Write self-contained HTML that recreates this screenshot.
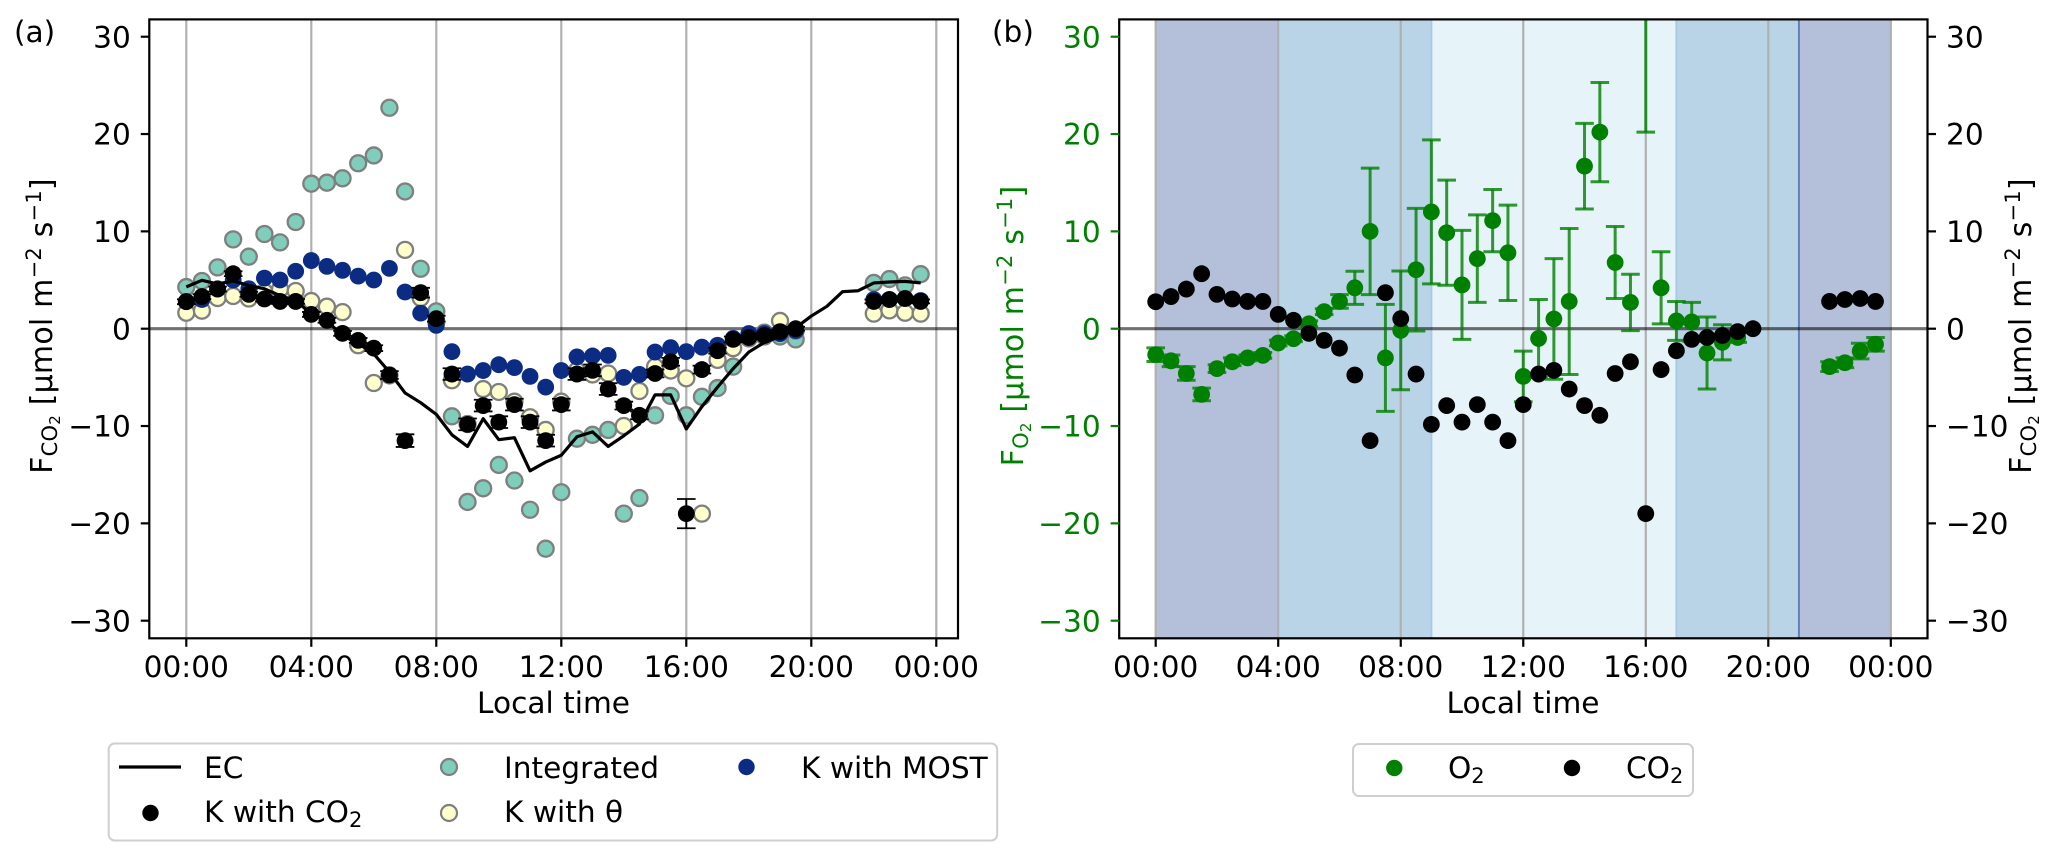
<!DOCTYPE html>
<html lang="en">
<head>
<meta charset="utf-8">
<title>CO2 and O2 flux diel cycles</title>
<style>
html,body{margin:0;padding:0;background:#fff;}
svg{display:block;font-family:"DejaVu Sans","Liberation Sans",sans-serif;}
text{font-size:29.6px;fill:#000;}
.axis-title{font-size:30px;letter-spacing:0.2px;}
.sub{font-size:21px;}
.subsub{font-size:15px;}
.green,.green tspan{fill:#008000;}
</style>
</head>
<body>
<svg id="figure" xmlns="http://www.w3.org/2000/svg" width="2067" height="859" viewBox="0 0 2067 859">
  <defs>
    <clipPath id="clip-a"><rect x="149.3" y="19.4" width="808.7" height="618.9"/></clipPath>
    <clipPath id="clip-b"><rect x="1119.2" y="19.4" width="808.3" height="618.9"/></clipPath>
  </defs>
  <rect x="0" y="0" width="2067" height="859" fill="#fff"/>
  <g id="panel-a"></g>
  <g id="panel-b"></g>

  <text x="14" y="42">(a)</text>
  <text x="992" y="42">(b)</text>

  <text class="axis-title" transform="translate(52,326) rotate(-90)" text-anchor="middle">F<tspan dy="5" class="sub">CO</tspan><tspan dy="3" class="subsub">2</tspan><tspan dy="-8"> [µmol m</tspan><tspan dy="-11" class="sub">−2</tspan><tspan dy="11"> s</tspan><tspan dy="-11" class="sub">−1</tspan><tspan dy="11">]</tspan></text>
  <text class="axis-title green" transform="translate(1023,326) rotate(-90)" text-anchor="middle">F<tspan dy="5" class="sub">O</tspan><tspan dy="3" class="subsub">2</tspan><tspan dy="-8"> [µmol m</tspan><tspan dy="-11" class="sub">−2</tspan><tspan dy="11"> s</tspan><tspan dy="-11" class="sub">−1</tspan><tspan dy="11">]</tspan></text>
  <text class="axis-title" transform="translate(2031,326) rotate(-90)" text-anchor="middle">F<tspan dy="5" class="sub">CO</tspan><tspan dy="3" class="subsub">2</tspan><tspan dy="-8"> [µmol m</tspan><tspan dy="-11" class="sub">−2</tspan><tspan dy="11"> s</tspan><tspan dy="-11" class="sub">−1</tspan><tspan dy="11">]</tspan></text>

  <text x="553.5" y="713" text-anchor="middle">Local time</text>
  <text x="1523" y="713" text-anchor="middle">Local time</text>

  <g>
    <rect x="108.7" y="743.5" width="888.5" height="97" rx="6" fill="#fff" stroke="#cfcfcf" stroke-width="2"/>
    <line x1="119" y1="767" x2="181" y2="767" stroke="#000" stroke-width="3.2"/>
    <text x="204" y="778">EC</text>
    <circle cx="150.5" cy="813" r="8.2" fill="#000"/>
    <text x="204" y="822">K with CO<tspan dy="5" class="sub">2</tspan></text>
    <circle cx="449" cy="767" r="8" fill="#7fcdbb" stroke="#7f7f7f" stroke-width="2.2"/>
    <text x="504" y="778">Integrated</text>
    <circle cx="449" cy="813" r="8" fill="#ffffcc" stroke="#7f7f7f" stroke-width="2.2"/>
    <text x="504" y="822">K with θ</text>
    <circle cx="746.5" cy="767" r="8.2" fill="#0c2c84"/>
    <text x="801" y="778">K with MOST</text>
  </g>

  <g>
    <rect x="1353" y="744" width="340" height="52" rx="6" fill="#fff" stroke="#cfcfcf" stroke-width="2"/>
    <circle cx="1394.3" cy="768" r="8.2" fill="#008000"/>
    <text x="1448" y="778">O<tspan dy="5" class="sub">2</tspan></text>
    <circle cx="1572" cy="768" r="8.2" fill="#000"/>
    <text x="1626" y="778">CO<tspan dy="5" class="sub">2</tspan></text>
  </g>
</svg>

<script>
const hours = [
  0,0.5,1,1.5,2,2.5,3,3.5,
  4,4.5,5,5.5,6,6.5,7,7.5,
  8,8.5,9,9.5,10,10.5,11,11.5,
  12,12.5,13,13.5,14,14.5,15,15.5,
  16,16.5,17,17.5,18,18.5,19,19.5,
  20,20.5,21,21.5,22,22.5,23,23.5
];
const ecFlux = [
  4.3,4.97,4.6,4.9,4.45,4.1,3.4,2.9,
  1.5,0.8,-0.7,-1.5,-2.6,-4.45,-6.6,-7.6,
  -8.8,-10.9,-12.1,-9.25,-11.4,-11.2,-14.6,-13.7,
  -13,-11.1,-10.6,-12.1,-11,-9.8,-6.8,-6.8,
  -10.3,-8,-6,-4.1,-2.4,-1.4,-0.8,0.1,
  1.3,2.3,3.8,3.9,4.7,4.8,4.86,4.7
];
const co2Flux = [
  2.77,3.3,4.07,5.65,3.53,3.05,2.8,2.8,
  1.47,0.86,-0.48,-1.2,-2.0,-4.76,-11.5,3.7,
  1.03,-4.66,-9.83,-7.9,-9.6,-7.8,-9.6,-11.5,
  -7.8,-4.66,-4.28,-6.2,-7.9,-8.9,-4.6,-3.4,
  -19,-4.2,-2.26,-1.1,-0.9,-0.7,-0.3,0,
  null,null,null,null,2.8,3.0,3.1,2.8
];
const co2Err = [
  0.25,0.25,0.25,0.25,0.25,0.25,0.25,0.25,
  0.25,0.25,0.25,0.25,0.3,0.4,0.65,0.5,
  0.3,0.6,0.6,0.6,0.6,0.6,0.6,0.6,
  0.6,0.6,0.6,0.6,0.4,0.4,0.4,0.4,
  1.5,0.4,0.3,0.3,0.2,0.2,0.2,0.2,
  null,null,null,null,0.2,0.2,0.2,0.2
];
const integratedFlux = [
  4.28,4.9,6.3,9.18,7.4,9.73,8.87,10.96,
  14.9,15.0,15.45,17.0,17.8,22.7,14.1,6.16,
  1.78,-9.0,-17.8,-16.4,-14,-15.6,-18.6,-22.6,
  -16.8,-11.3,-10.9,-10.4,-19,-17.4,-8.9,-6.9,
  -8.9,-7,-6.1,-3.9,-1,-0.8,-0.8,-1.1,
  null,null,null,null,4.7,5.1,4.45,5.6
];
const thetaFlux = [
  1.64,1.85,3.15,3.36,3.1,3.77,4.07,3.87,
  2.84,2.26,1.7,-1.7,-5.58,-4.8,8.1,3.15,
  0.7,-5.3,-9.8,-6.2,-6.5,-7.5,-9.1,-10.4,
  -7.5,-4.3,-4.7,-4.6,-10,-6.4,-3.9,-4.3,
  -5.1,-19,-3.2,-2,-0.9,-0.4,0.8,-0.2,
  null,null,null,null,1.55,1.88,1.64,1.55
];
const mostFlux = [
  2.8,3.0,4.1,5.0,4.1,5.2,5.0,5.9,
  7.0,6.4,6.0,5.4,5.0,6.2,3.77,1.6,
  0.34,-2.36,-4.66,-4.3,-3.7,-4.0,-4.9,-6.0,
  -4.3,-2.9,-2.8,-2.74,-5.0,-4.7,-2.4,-1.95,
  -2.36,-1.9,-1.7,-1.0,-0.5,-0.5,-0.5,-0.2,
  null,null,null,null,3.0,3.0,3.1,2.9
];
const o2Flux = [
  -2.67,-3.3,-4.6,-6.75,-4.1,-3.4,-3.0,-2.74,
  -1.47,-1.03,0.5,1.75,2.8,4.2,10,-3,
  -0.17,6.06,12.0,9.86,4.5,7.2,11.1,7.8,
  -4.9,-1,1,2.8,16.7,20.2,6.8,2.7,
  36,4.2,0.8,0.7,-2.5,-1.4,-0.9,null,
  null,null,null,null,-3.9,-3.5,-2.3,-1.6
];
const o2Err = [
  0.7,0.6,0.7,0.65,0.4,0.4,0.3,0.3,
  0.3,0.3,0.3,0.3,0.7,1.7,6.5,5.5,
  6.1,6.3,7.4,5.4,5.6,4.5,3.2,4.9,
  2.6,4.0,6.2,7.5,4.4,5.1,3.7,2.9,
  15.8,3.7,2.0,2.0,3.7,1.8,0.5,null,
  null,null,null,null,0.5,0.5,0.8,0.7
];
const yTicks = [-30,-20,-10,0,10,20,30];
const xTicks = [0,4,8,12,16,20,24];
const xTickLabels = ['00:00','04:00','08:00','12:00','16:00','20:00','00:00'];
const shadeStarts = [0,4,9,17,21];
const shadeEnds = [4,9,17,21,24];
const shadeKinds = ['night','twilight','day','twilight','night'];

const NS = 'http://www.w3.org/2000/svg';
const yScale = v => 328.7 - 9.733 * v;
const xA = h => 186.3 + 31.25 * h;
const xB = h => 1155.7 + 30.63 * h;
const boxA = {l:149.3, r:958, t:19.4, b:638.3};
const boxB = {l:1119.2, r:1927.5, t:19.4, b:638.3};
const shadeColor = {night:'#b4bfda', twilight:'#bad4e7', day:'#e6f3f8'};

function make(tag, attrs, parent) {
  const el = document.createElementNS(NS, tag);
  for (const k in attrs) el.setAttribute(k, attrs[k]);
  parent.appendChild(el);
  return el;
}
function fmtTick(v) {
  return v < 0 ? '\u2212' + Math.abs(v) : String(v);
}
function drawGrid(parent, xFn, box) {
  xTicks.forEach(function (t) {
    const g = make('line', {x1:xFn(t), x2:xFn(t), y1:box.t, y2:box.b, stroke:'#b0b0b0', 'stroke-width':2.2}, parent);
    
    
  });
}
function drawZero(parent, box) {
  const z = make('line', {x1:box.l, x2:box.r, y1:yScale(0), y2:yScale(0), stroke:'#000', 'stroke-opacity':0.56, 'stroke-width':3.2}, parent);
  
  
}
function drawFrame(parent, box) {
  const f = make('rect', {x:box.l, y:box.t, width:box.r-box.l, height:box.b-box.t, fill:'none', stroke:'#000', 'stroke-width':2.2}, parent);
  
  
}
function drawXAxis(parent, xFn, box) {
  xTicks.forEach(function (t, i) {
    const m = make('line', {x1:xFn(t), x2:xFn(t), y1:box.b, y2:box.b+8.5, stroke:'#000', 'stroke-width':2.2}, parent);
    
    
    const l = make('text', {x:xFn(t), y:677, 'text-anchor':'middle'}, parent);
    l.textContent = xTickLabels[i];
    
    
  });
}
function drawYAxis(parent, box, side, color) {
  const dir = side === 'left' ? -1 : 1;
  const edge = side === 'left' ? box.l : box.r;
  yTicks.forEach(function (v) {
    const m = make('line', {x1:edge, x2:edge+dir*8.5, y1:yScale(v), y2:yScale(v), stroke:color, 'stroke-width':2.2}, parent);
    
    
    const l = make('text', {x:edge+dir*18.5, y:yScale(v)+10.7, 'text-anchor':side === 'left' ? 'end' : 'start', style:'fill:' + color}, parent);
    l.textContent = fmtTick(v);
    
    
  });
}
function drawDots(parent, values, xFn, fill, edge, name) {
  values.forEach(function (v, i) {
    if (v === null) return;
    const attrs = {cx:xFn(hours[i]), cy:yScale(v), r:edge ? 8 : 8.4, fill:fill};
    if (edge) { attrs.stroke = edge; attrs['stroke-width'] = 2.3; }
    const dot = make('circle', attrs, parent);
    
    
  });
}
function drawErrors(parent, values, errs, xFn, color, opacity, lw, name) {
  values.forEach(function (v, i) {
    if (v === null || errs[i] === null) return;
    const x = xFn(hours[i]);
    const top = yScale(v + errs[i]);
    const bot = yScale(v - errs[i]);
    const g = make('g', {stroke:color, 'stroke-opacity':opacity, 'stroke-width':lw}, parent);
    
    
    make('line', {x1:x, x2:x, y1:top, y2:bot}, g);
    make('line', {x1:x-9.3, x2:x+9.3, y1:top, y2:top}, g);
    make('line', {x1:x-9.3, x2:x+9.3, y1:bot, y2:bot}, g);
  });
}

/* panel a */
const panelA = document.getElementById('panel-a');
const plotA = make('g', {'clip-path':'url(#clip-a)'}, panelA);


drawGrid(plotA, xA, boxA);
drawZero(plotA, boxA);
drawDots(plotA, integratedFlux, xA, '#7fcdbb', '#7f7f7f', 'integrated-point');
drawDots(plotA, thetaFlux, xA, '#ffffcc', '#7f7f7f', 'k-theta-point');
drawDots(plotA, mostFlux, xA, '#0c2c84', null, 'k-most-point');
const ecLine = make('polyline', {
  points: ecFlux.map(function (v, i) { return xA(hours[i]) + ',' + yScale(v); }).join(' '),
  fill:'none', stroke:'#000', 'stroke-width':3.2, 'stroke-linejoin':'round'
}, plotA);


drawErrors(plotA, co2Flux, co2Err, xA, '#000', 1, 1.8, 'k-co2-error-bar');
drawDots(plotA, co2Flux, xA, '#000', null, 'k-co2-point');
drawFrame(panelA, boxA);
drawXAxis(panelA, xA, boxA);
drawYAxis(panelA, boxA, 'left', '#000');

/* panel b */
const panelB = document.getElementById('panel-b');
const plotB = make('g', {'clip-path':'url(#clip-b)'}, panelB);


shadeStarts.forEach(function (s, i) {
  const band = make('rect', {x:xB(s), y:boxB.t, width:xB(shadeEnds[i])-xB(s), height:boxB.b-boxB.t, fill:shadeColor[shadeKinds[i]]}, plotB);
  
  
});
const edge9 = make('line', {x1:xB(9), x2:xB(9), y1:boxB.t, y2:boxB.b, stroke:'#a6cce4', 'stroke-width':2}, plotB);


const edge17 = make('line', {x1:xB(17), x2:xB(17), y1:boxB.t, y2:boxB.b, stroke:'#a6cce4', 'stroke-width':2}, plotB);


const edge21 = make('line', {x1:xB(21), x2:xB(21), y1:boxB.t, y2:boxB.b, stroke:'#5f7fbe', 'stroke-width':2}, plotB);


drawGrid(plotB, xB, boxB);
drawZero(plotB, boxB);
drawErrors(plotB, o2Flux, o2Err, xB, '#008000', 0.8, 3, 'o2-error-bar');
drawDots(plotB, o2Flux, xB, '#008000', null, 'o2-point');
drawDots(plotB, co2Flux, xB, '#000', null, 'co2-point');
drawFrame(panelB, boxB);
drawXAxis(panelB, xB, boxB);
drawYAxis(panelB, boxB, 'left', '#008000');
drawYAxis(panelB, boxB, 'right', '#000');
</script>
</body>
</html>
